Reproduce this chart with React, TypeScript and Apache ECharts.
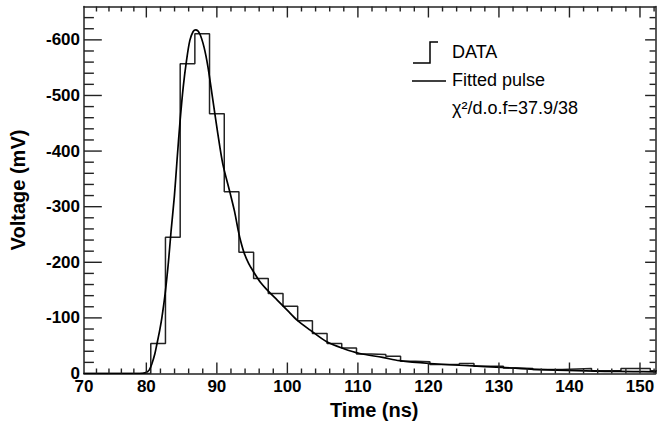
import React, { useEffect, useRef } from "react";
import * as echarts from "echarts";

// Histogram (DATA): left edges of each bin, last entry is the right edge of the last bin
const binEdges = [
  70.21, 72.3, 74.38, 76.46, 78.55, 80.63, 82.71, 84.8, 86.88, 88.96, 91.05, 93.13, 95.21, 97.29,
  99.38, 101.46, 103.55, 105.63, 107.71, 109.8, 111.88, 113.96, 116.05, 118.13, 120.21, 122.3,
  124.38, 126.46, 128.55, 130.63, 132.71, 134.8, 136.88, 138.96, 141.05, 143.13, 145.21, 147.3,
  149.38, 151.46, 153.55,
];
const dataValues = [
  0, 0, 0, 0, 0, -54, -245, -557, -611, -467, -327, -218, -171, -144, -121, -95, -72, -54, -46,
  -35, -34, -31, -22, -21, -16, -16, -18, -13, -13, -10, -9, -7, -7, -8, -9, -5, -5, -9, -9, -5,
];

// Fitted pulse
const fitTimes = [
  71.2, 78.5, 79.5, 80.0, 80.4, 80.8, 81.2, 81.5, 81.9, 82.2, 82.67, 83.13, 83.5, 83.97, 84.35,
  84.77, 85.23, 85.7, 86.17, 86.64, 87.01, 87.57, 88.18, 88.74, 89.44, 90.14, 90.84, 91.83, 92.5,
  93.05, 93.42, 93.89, 94.5, 95.05, 96.23, 97.16, 98.56, 99.97, 101.37, 103.24, 105.58, 107.92,
  110.26, 113.5, 115.9, 120.1, 125.7, 130.4, 135.0, 139.7, 145.0, 149.06, 152.3,
];
const fitValues = [
  0, 0, -0.5, -2, -6, -18, -35, -53, -78, -100, -144, -200, -255, -318, -383, -452, -515, -563,
  -599, -615, -618, -611, -587, -551, -491, -431, -377, -327, -292, -256, -236, -216, -198, -186,
  -163, -150, -132, -114, -96, -78, -57, -45, -36, -29, -23, -18, -14, -11, -7.5, -5.5, -4, -3.5, -3,
];

// Axes
const X_MIN = 71.16;
const X_MAX = 152.2;
const Y_MIN = -660;
const Y_MAX = 0;
const xLabelValues = [X_MIN, 80, 90, 100, 110, 120, 130, 140, 150];
const xLabelTexts = ["70", "80", "90", "100", "110", "120", "130", "140", "150"];
const yLabelValues = [-600, -500, -400, -300, -200, -100, 0];
const xMajorTicks = [80, 90, 100, 110, 120, 130, 140, 150];
const xMinorTicks = [
  72.93, 74.7, 76.46, 78.23, 82, 84, 86, 88, 92, 94, 96, 98, 102, 104, 106, 108, 112, 114, 116,
  118, 122, 124, 126, 128, 132, 134, 136, 138, 142, 144, 146, 148, 152,
];
const yMajorTicks = [-600, -500, -400, -300, -200, -100];
const yMinorTicks = [
  -640, -620, -580, -560, -540, -520, -480, -460, -440, -420, -380, -360, -340, -320, -280, -260,
  -240, -220, -180, -160, -140, -120, -80, -60, -40, -20,
];

const legendTexts = ["DATA", "Fitted pulse", "χ²/d.o.f=37.9/38"];

const FONT = "Liberation Sans, Arial, Helvetica, sans-serif";
const FRAME = "#222";
const GRID = { left: 78, right: 4.5, top: 6.5, bottom: 52.5 };
const W = 660;
const H = 426;

export default function App() {
  const ref = useRef<HTMLDivElement>(null);

  useEffect(() => {
    if (!ref.current) return;
    const chart = echarts.init(ref.current, undefined, { renderer: "svg" });

    const histData = dataValues.map((v, i) => [binEdges[i], v]);
    histData.push([binEdges[dataValues.length], dataValues[dataValues.length - 1]]);
    const fitData = fitTimes.map((t, i) => [t, fitValues[i]]);

    const axisLineStyle = { color: FRAME, width: 1.5 };

    // data units per pixel of the grid (tick lengths are given in pixels)
    const gw = W - GRID.left - GRID.right;
    const gh = H - GRID.top - GRID.bottom;
    const dxPerPx = (X_MAX - X_MIN) / gw;
    const dyPerPx = (Y_MAX - Y_MIN) / gh;

    // each tick mark is its own short two-point line series
    const tickSeries: any[] = [];
    const seg = (a: number[], b: number[]) =>
      tickSeries.push({
        type: "line",
        xAxisIndex: 0,
        yAxisIndex: 0,
        data: [a, b],
        showSymbol: false,
        symbol: "none",
        clip: false,
        lineStyle: { color: FRAME, width: 1.4 },
        emphasis: { disabled: true },
        tooltip: { show: false },
        z: 3,
      });
    const addX = (vals: number[], lenB: number, lenT: number) =>
      vals.forEach((v) => {
        seg([v, Y_MAX], [v, Y_MAX - lenB * dyPerPx]);
        seg([v, Y_MIN], [v, Y_MIN + lenT * dyPerPx]);
      });
    const addY = (vals: number[], lenL: number, lenR: number) =>
      vals.forEach((v) => {
        seg([X_MIN, v], [X_MIN + lenL * dxPerPx, v]);
        seg([X_MAX, v], [X_MAX - lenR * dxPerPx, v]);
      });
    addX(xMajorTicks, 11, 11);
    addX(xMinorTicks, 5, 5);
    addY(yMajorTicks, 18, 10.5);
    addY(yMinorTicks, 10, 6);

    const legendGraphics: any[] = [
      {
        type: "polyline",
        shape: { points: [[413, 63], [430, 63], [430, 42], [438, 42]] },
        style: { stroke: "#000", lineWidth: 1.5, fill: null },
      },
      {
        type: "line",
        shape: { x1: 412, y1: 81, x2: 446, y2: 81 },
        style: { stroke: "#000", lineWidth: 1.5 },
      },
      ...legendTexts.map((t, i) => ({
        type: "text",
        x: 452,
        y: [52, 80, 108][i],
        style: {
          text: t,
          fontFamily: FONT,
          fontSize: 18,
          fill: "#000",
          align: "left",
          verticalAlign: "middle",
        },
      })),
    ];

    const option: any = {
      animation: false,
      backgroundColor: "#fff",
      grid: { ...GRID, containLabel: false },
      xAxis: [
        {
          type: "value",
          position: "bottom",
          min: X_MIN,
          max: X_MAX,
          axisLine: { show: true, onZero: false, lineStyle: axisLineStyle },
          axisTick: { show: false },
          splitLine: { show: false },
          axisLabel: {
            show: true,
            customValues: xLabelValues,
            margin: 4,
            fontFamily: FONT,
            fontWeight: "bold",
            fontSize: 17,
            color: "#000",
            formatter: (v: number) => {
              const i = xLabelValues.findIndex((x) => Math.abs(x - v) < 0.01);
              return i >= 0 ? xLabelTexts[i] : String(v);
            },
          },
          name: "Time (ns)",
          nameLocation: "middle",
          nameGap: 26,
          nameTextStyle: {
            fontFamily: FONT,
            fontWeight: "bold",
            fontSize: 20,
            color: "#000",
            padding: [0, 0, 0, 9],
          },
        },
        {
          type: "value",
          position: "top",
          min: X_MIN,
          max: X_MAX,
          axisLine: { show: true, onZero: false, lineStyle: axisLineStyle },
          axisTick: { show: false },
          axisLabel: { show: false },
          splitLine: { show: false },
        },
      ],
      yAxis: [
        {
          type: "value",
          position: "left",
          inverse: true,
          min: Y_MIN,
          max: Y_MAX,
          axisLine: { show: true, onZero: false, lineStyle: axisLineStyle },
          axisTick: { show: false },
          splitLine: { show: false },
          axisLabel: {
            show: true,
            customValues: yLabelValues,
            margin: 4,
            fontFamily: FONT,
            fontWeight: "bold",
            fontSize: 17,
            color: "#000",
            formatter: (v: number) => String(v),
          },
          name: "Voltage (mV)",
          nameLocation: "middle",
          nameRotate: 90,
          nameGap: 56,
          nameTextStyle: { fontFamily: FONT, fontWeight: "bold", fontSize: 20, color: "#000" },
        },
        {
          type: "value",
          position: "right",
          inverse: true,
          min: Y_MIN,
          max: Y_MAX,
          axisLine: { show: true, onZero: false, lineStyle: axisLineStyle },
          axisTick: { show: false },
          axisLabel: { show: false },
          splitLine: { show: false },
        },
      ],
      series: [
        {
          type: "line",
          name: "DATA",
          xAxisIndex: 0,
          yAxisIndex: 0,
          data: histData,
          step: "end",
          showSymbol: false,
          symbol: "none",
          clip: true,
          lineStyle: { color: "#222", width: 1.5 },
        },
        {
          type: "line",
          name: "Fitted pulse",
          xAxisIndex: 0,
          yAxisIndex: 0,
          data: fitData,
          smooth: 0.3,
          showSymbol: false,
          symbol: "none",
          clip: true,
          lineStyle: { color: "#000", width: 1.7 },
        },
        ...tickSeries,
      ],
      graphic: legendGraphics,
    };

    chart.setOption(option);
    return () => chart.dispose();
  }, []);

  return (
    <div
      ref={ref}
      style={{ position: "fixed", left: 0, top: 0, width: W, height: H, background: "#fff" }}
    />
  );
}
